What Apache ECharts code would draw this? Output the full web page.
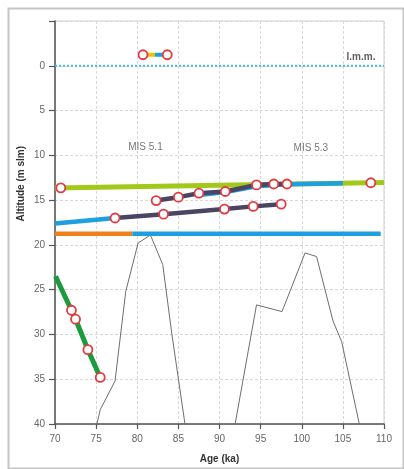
<!DOCTYPE html>
<html>
<head>
<meta charset="utf-8">
<script src="https://cdn.jsdelivr.net/npm/echarts@6/dist/echarts.min.js"></script>
<style>
  html, body { margin: 0; padding: 0; background: #ffffff; }
  #chart { width: 404px; height: 469px; }
</style>
</head>
<body>
<div id="chart"></div>
<script>
// Axis ranges and tick labels
const ageRange = [70, 110];
const ageStep = 5;
const altitudeRange = [-5, 40];
const altitudeStep = 5;

// Palaeo-shoreline profiles: [age ka, altitude m slm]
const greenTerrace = [[70, 13.66], [110, 13.04]];
const greenTerraceSamples = [[70.7, 13.63], [108.4, 13.06]];
const blueLower = [[70, 17.6], [77.3, 17.0]];
const blueUpper = [[87.3, 14.45], [90.7, 14.1], [94.5, 13.45], [98.2, 13.22], [105, 13.12]];
const notchUpper = [[82.3, 15.05], [85.0, 14.67], [87.5, 14.23], [90.7, 14.04], [94.5, 13.3], [96.6, 13.2], [98.2, 13.2]];
const notchLower = [[77.3, 17.0], [83.2, 16.57], [90.6, 16.0], [94.1, 15.7], [97.5, 15.45]];
const orangeLevel = [[70, 18.77], [79.4, 18.77]];
const blueLevel = [[79.4, 18.77], [109.6, 18.77]];
const submerged = [[70.06, 23.5], [72.0, 27.3], [72.5, 28.3], [74.0, 31.7], [75.5, 34.8]];
const presentYellow = [[80.7, -1.23], [82.15, -1.23]];
const presentBlue = [[82.15, -1.23], [83.65, -1.23]];
const meanSeaLevel = [[70, 0], [110, 0]];

// Sea-level curve (two highstand peaks)
const seaLevelMIS51 = [[75.1, 40], [75.5, 38.4], [77.3, 35.2], [78.6, 25.2], [80.1, 19.8], [81.6, 18.9], [83.1, 22.2], [84.2, 29.9], [85.8, 40]];
const seaLevelMIS53 = [[91.9, 40], [94.5, 26.7], [97.6, 27.45], [100.4, 20.9], [101.8, 21.3], [103.8, 28.5], [104.85, 30.8], [107.0, 40]];

// Text annotations
const annotations = [
  { name: 'MIS 5.1', value: [81.0, 9.1] },
  { name: 'MIS 5.3', value: [101.1, 9.2] },
  { name: 'l.m.m.', value: [107.2, -1.0], label: { color: '#333', fontWeight: 'bold' } }
];

// Sampled points (red circles)
const samplePoints = [].concat(
  greenTerraceSamples,
  notchUpper,
  notchLower,
  submerged.slice(1),
  [presentYellow[0], presentBlue[1]]
);

function lineSeries(data, color, width, z) {
  return {
    type: 'line', data: data, symbol: 'none', z: z || 2,
    lineStyle: { color: color, width: width, cap: 'butt' },
    silent: true
  };
}

const chart = echarts.init(document.getElementById('chart'), null, { renderer: 'canvas' });
chart.setOption({
  animation: false,
  backgroundColor: '#ffffff',
  grid: { left: 55, right: 20, top: 21, bottom: 45, show: true, borderColor: '#d0d0d0', borderWidth: 1 },
  graphic: [
    {
      type: 'rect', left: 6, top: 6, silent: true,
      shape: { width: 395, height: 460 },
      style: { fill: 'none', stroke: '#c6c6c6', lineWidth: 2 }
    },
    {
      type: 'text', left: 16, top: 146, rotation: Math.PI / 2, silent: true,
      style: { text: 'Altitude (m slm)', font: 'bold 10px "Liberation Sans", Arial, sans-serif', fill: '#333' }
    }
  ],
  xAxis: {
    type: 'value', min: ageRange[0], max: ageRange[1], interval: ageStep,
    name: 'Age (ka)', nameLocation: 'middle', nameGap: 30,
    nameTextStyle: { fontWeight: 'bold', fontSize: 10, color: '#333', fontFamily: 'Liberation Sans' },
    axisLine: { onZero: false, lineStyle: { color: '#555', width: 1.5 } },
    axisTick: { length: 5, lineStyle: { color: '#555', width: 1.2 } },
    axisLabel: { color: '#666', fontSize: 10, margin: 10, fontFamily: 'Liberation Sans' },
    splitLine: { show: true, lineStyle: { color: '#d8d8d8', type: [3, 2], width: 1 } }
  },
  yAxis: {
    type: 'value', min: altitudeRange[0], max: altitudeRange[1], interval: altitudeStep, inverse: true,
    axisLine: { show: true, onZero: false, lineStyle: { color: '#555', width: 1.5 } },
    axisTick: { show: true, length: 6, lineStyle: { color: '#555', width: 1.2 } },
    axisLabel: { color: '#666', fontSize: 10, margin: 10, fontFamily: 'Liberation Sans',
      formatter: function (v) { return v < 0 ? '' : String(v); } },
    splitLine: { show: true, lineStyle: { color: '#d8d8d8', type: [3, 2], width: 1 } }
  },
  series: [
    {
      type: 'line', data: meanSeaLevel, symbol: 'none', z: 1, silent: true,
      lineStyle: { color: '#45bcd8', width: 2, type: [2, 2] }
    },
    lineSeries(seaLevelMIS51, '#6e6e6e', 1, 1),
    lineSeries(seaLevelMIS53, '#6e6e6e', 1, 1),
    lineSeries(greenTerrace, '#a3c81c', 5, 2),
    lineSeries(blueLower, '#1d9fe0', 4.5, 3),
    lineSeries(blueUpper, '#1d9fe0', 4.5, 3),
    lineSeries(notchUpper, '#4a4562', 4.5, 4),
    lineSeries(notchLower, '#4a4562', 4.5, 4),
    lineSeries(orangeLevel, '#f0801e', 4.5, 3),
    lineSeries(blueLevel, '#1d9fe0', 4.5, 3),
    lineSeries(submerged, '#1b9a3e', 5, 3),
    lineSeries(presentYellow, '#f5c000', 4, 3),
    lineSeries(presentBlue, '#1d9fe0', 4, 3),
    {
      type: 'scatter', data: samplePoints, z: 6, silent: true,
      symbol: 'circle', symbolSize: 9,
      itemStyle: { color: '#ffffff', borderColor: '#e23a3f', borderWidth: 1.8, opacity: 1 }
    },
    {
      type: 'scatter', data: annotations, z: 7, silent: true,
      symbolSize: 1, itemStyle: { color: 'rgba(0,0,0,0)' },
      label: {
        show: true, position: 'inside', fontSize: 10, color: '#555', fontFamily: 'Liberation Sans',
        formatter: function (p) { return p.name; }
      }
    }
  ]
});
</script>
</body>
</html>
